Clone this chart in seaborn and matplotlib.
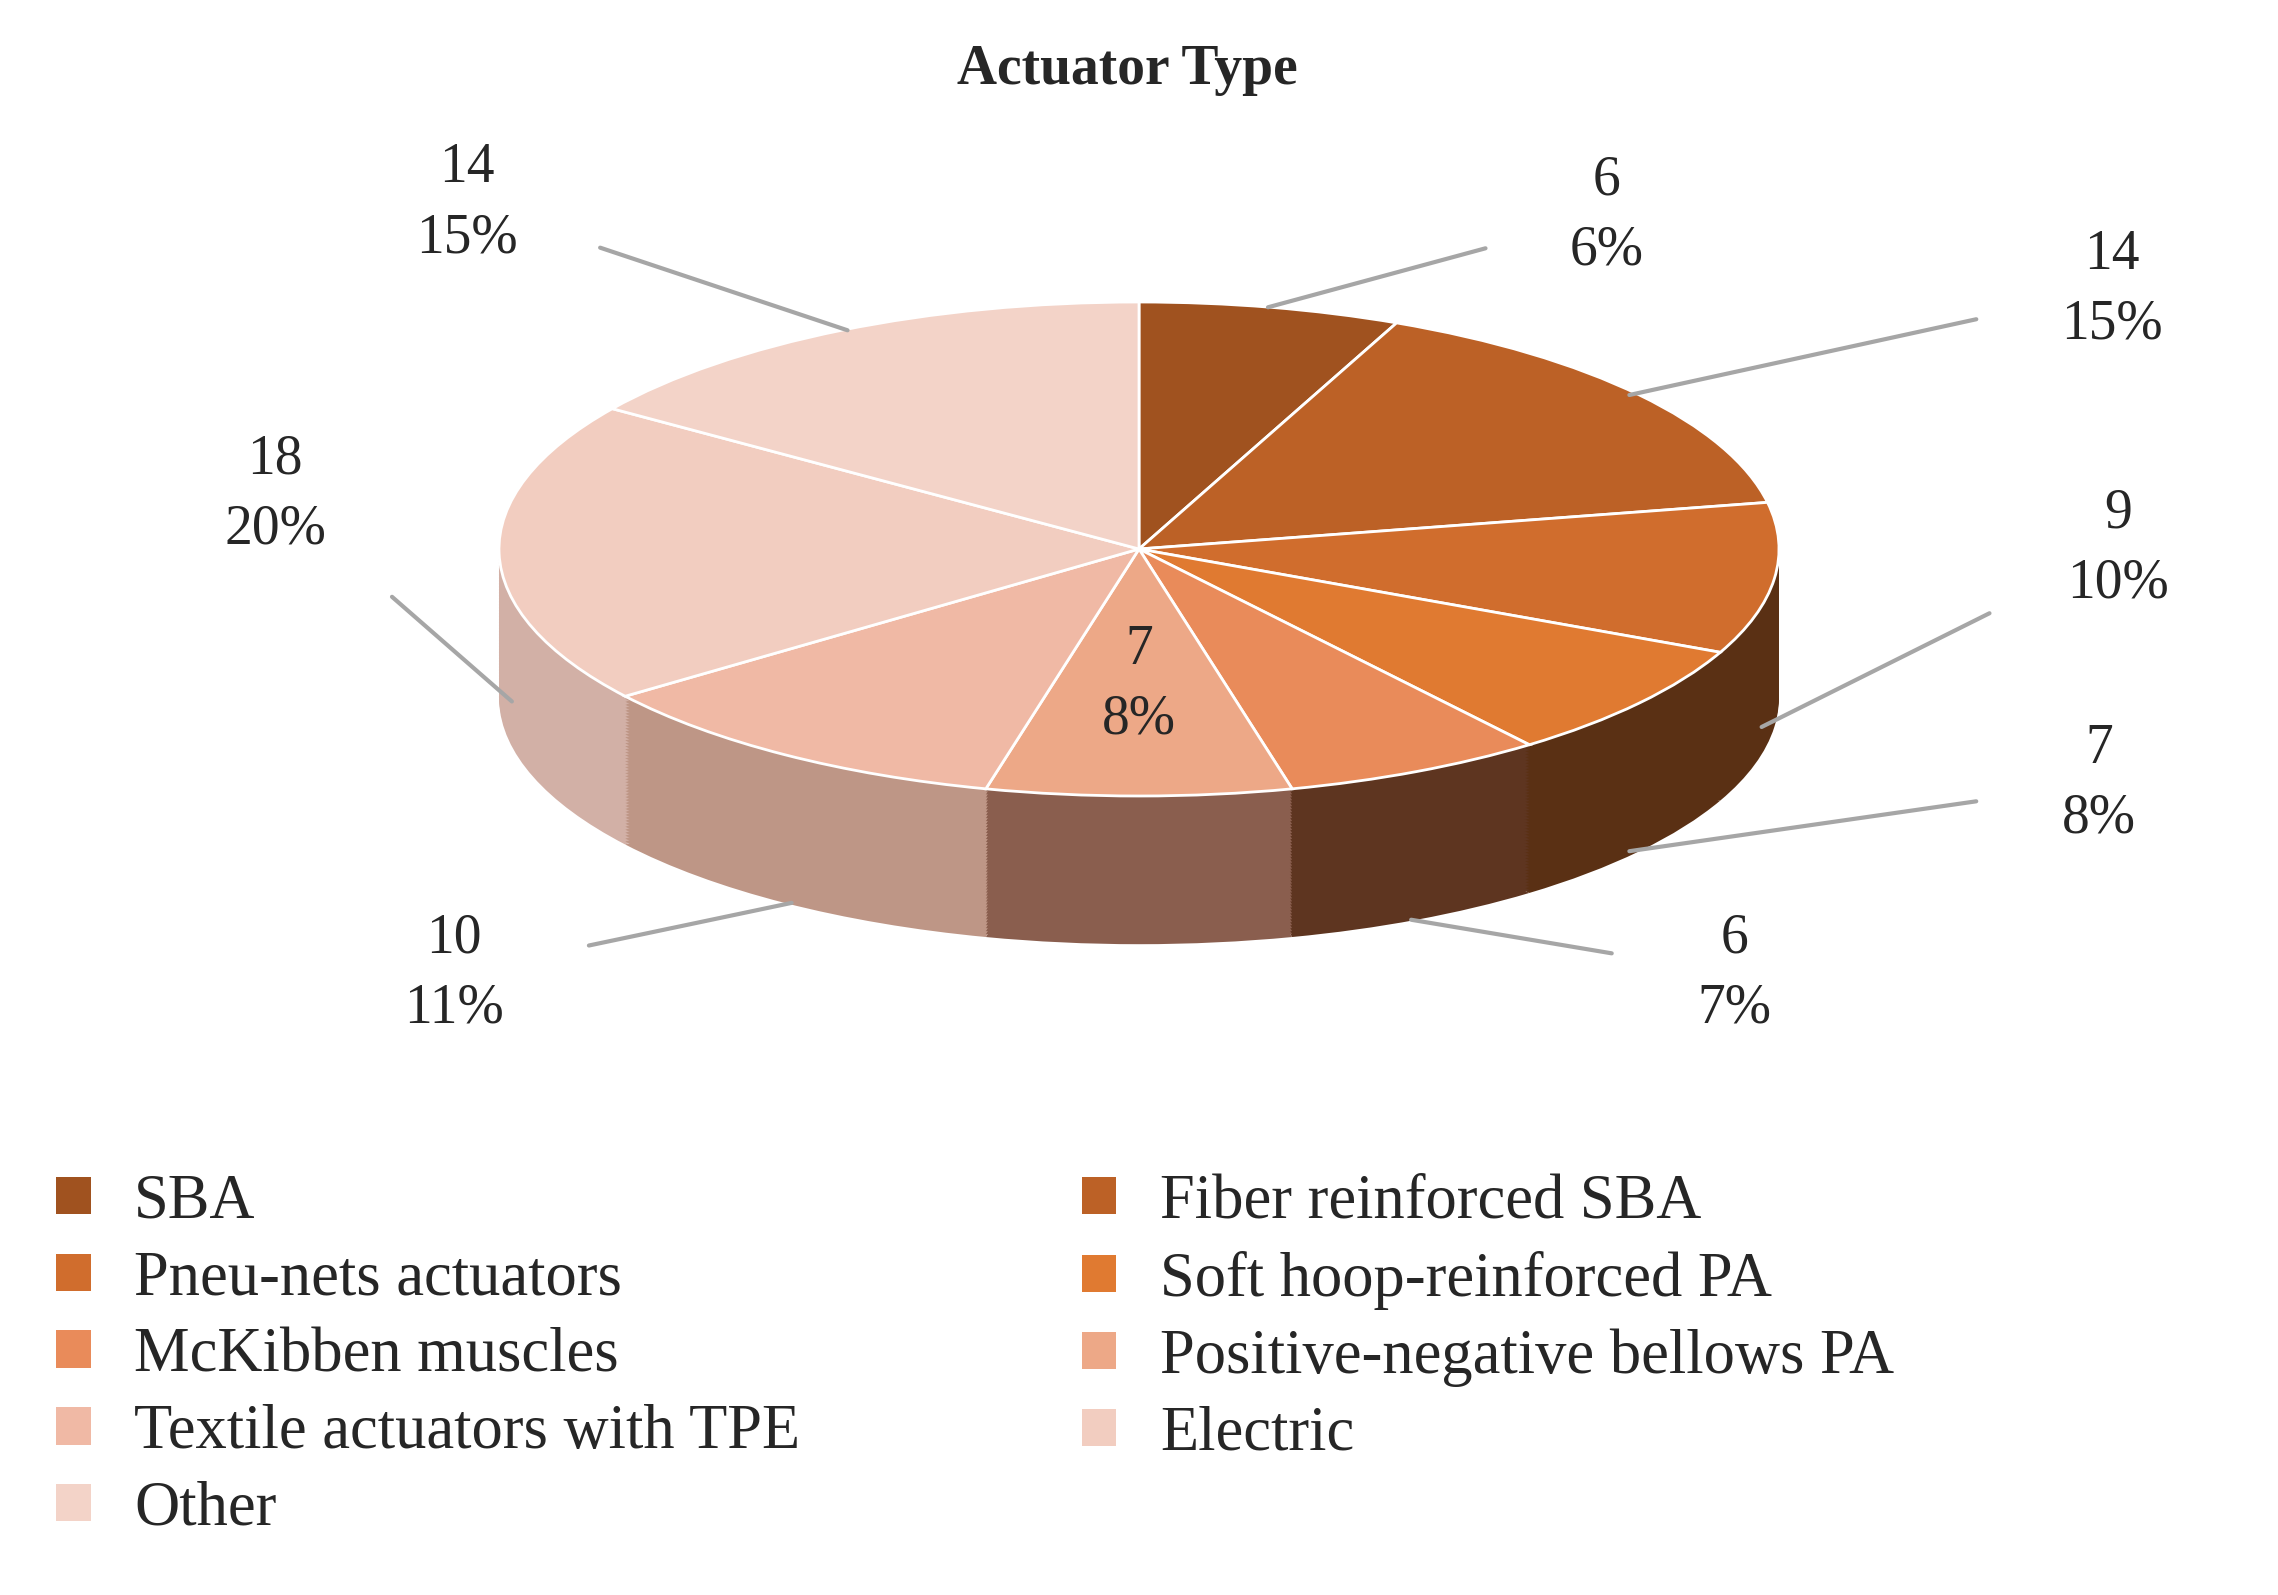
import numpy as np
import matplotlib
matplotlib.use("Agg")
import matplotlib.pyplot as plt
import seaborn as sns
from matplotlib.patches import Patch

sns.set_theme(style="white")
plt.rcParams['font.family'] = ['Liberation Serif', 'DejaVu Serif']

categories = ["SBA", "Fiber reinforced SBA", "Pneu-nets actuators", "Soft hoop-reinforced PA",
              "McKibben muscles", "Positive-negative bellows PA", "Textile actuators with TPE",
              "Electric", "Other"]
values = [6, 14, 9, 7, 6, 7, 10, 18, 14]
pcts = ["6%", "15%", "10%", "8%", "7%", "8%", "11%", "20%", "15%"]
colors = ["#A0521F", "#BC6126", "#D06D2D", "#E07A31", "#E98B5A", "#EDA887",
          "#F0B9A5", "#F2CDC0", "#F3D3C8"]
side_colors = ["#5A3014", "#5A3014", "#5A3014", "#5A3014", "#5E3520", "#8A5E4E",
               "#BE9686", "#D2B0A6", "#D8B8AE"]
# label placement (layout only)
label_pos = [(0.73, 1.35), (1.52, 1.05), (1.53, 0.0), (1.5, -0.95), (0.93, -1.72),
             None, (-1.07, -1.72), (-1.35, 0.22), (-1.05, 1.4)]

fig = plt.figure(figsize=(22.78, 15.95), dpi=100)
ax = fig.add_axes([0, 0, 1, 1])
rx_px, ry_px, cy_px = 640.0, 247.0, 549.0
depth = 0.6
for d in np.linspace(depth, 0.01, 50):
    ax.pie(values, colors=side_colors, startangle=90, counterclock=False,
           center=(0, -d), radius=1, frame=True, wedgeprops=dict(linewidth=0))
wedges, _ = ax.pie(values, colors=colors, startangle=90, counterclock=False,
                   radius=1, frame=True,
                   wedgeprops=dict(edgecolor="white", linewidth=2))
ax.set_aspect("auto")
ax.set_xlim(-1139 / rx_px, 1139 / rx_px)
ax.set_ylim(-(1595 - cy_px) / ry_px, cy_px / ry_px)
ax.axis("off")

for i, w in enumerate(wedges):
    th = np.deg2rad((w.theta1 + w.theta2) / 2)
    x, y = np.cos(th), np.sin(th)
    txt = f"{values[i]}\n{pcts[i]}"
    if label_pos[i] is None:
        ax.text(0.0, -0.55, txt, ha="center", va="center", fontsize=40, linespacing=1.45)
        continue
    ey = y if y > 0 else y - depth
    tx, ty = label_pos[i]
    ax.annotate(txt, xy=(x * 0.98, ey), xytext=(tx, ty),
                ha="center", va="center", fontsize=40, linespacing=1.45,
                arrowprops=dict(arrowstyle="-", color="#A6A6A6", lw=3,
                                shrinkA=60, shrinkB=0))

fig.text(0.495, 0.956, "Actuator Type", ha="center", va="center",
         fontsize=40, fontweight="bold")
order = [0, 2, 4, 6, 8, 1, 3, 5, 7]
handles = [Patch(facecolor=colors[k], edgecolor="none") for k in order]
labels = [categories[k] for k in order]
fig.legend(handles, labels, loc="lower left", bbox_to_anchor=(0.0, 0.0), ncol=2,
           frameon=False, fontsize=45, handlelength=0.55, handleheight=0.55,
           handletextpad=0.7, columnspacing=4.5, labelspacing=0.3)
fig.savefig("out.png", dpi=100)
